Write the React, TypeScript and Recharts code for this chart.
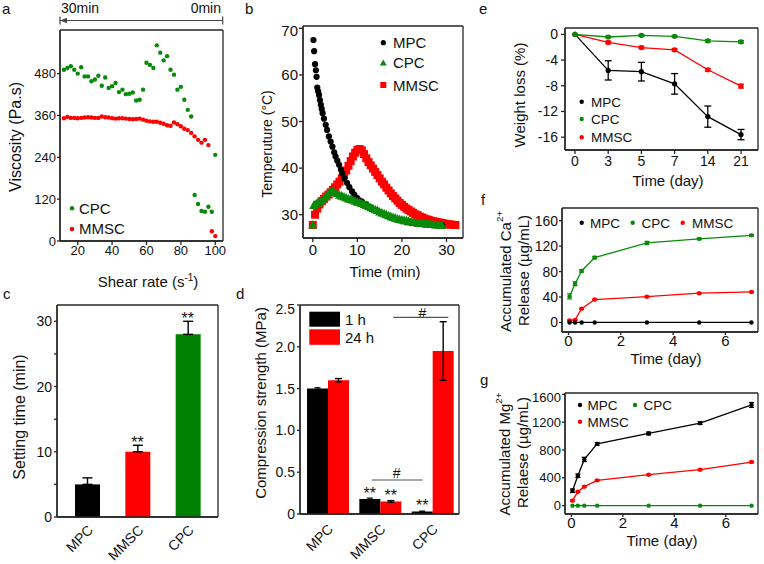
import React from 'react';
import {
  ScatterChart, Scatter, XAxis, YAxis, ComposedChart, BarChart, Bar, ErrorBar,
  LineChart, Line, LabelList, Cell, CartesianGrid,
} from 'recharts';

const FONT = "'Liberation Sans', Arial, Helvetica, sans-serif";
const AX = '#262626';
const GREEN = '#0a8a0a';
const RED = '#ff0000';
const BLACK = '#000000';
const TXT = '#111111';

// ---------- Panel a: viscosity vs shear rate ----------
const aShear = [12, 14, 16, 18, 20, 22, 24, 26, 28, 30, 32, 34, 36, 38, 40, 42, 44, 46, 48, 50, 52, 54, 56, 58, 60, 62, 64, 66, 68, 70, 72, 74, 76, 78, 80, 82, 84, 86, 88, 90, 92, 94, 96, 98, 100];
const aCPC = [491, 496, 501, 491, 480, 498, 472, 472, 458, 463, 474, 445, 469, 439, 444, 453, 427, 434, 421, 422, 426, 403, 405, 434, 511, 505, 496, 561, 540, 518, 530, 491, 477, 434, 442, 405, 376, 357, 132, 106, 86, 84, 98, 84, 247];
const aMMSC = [352, 356, 353, 353, 352, 353, 354, 355, 354, 353, 353, 357, 355, 354, 352, 351, 352, 352, 351, 350, 349, 350, 351, 348, 345, 343, 342, 342, 339, 336, 332, 330, 340, 335, 329, 322, 318, 310, 300, 290, 282, 290, 275, 28, 14];

// ---------- Panel b: temperature vs time ----------
const bTimeMPC = [0.15, 0.3, 0.5, 0.7, 0.85, 1.0, 1.2, 1.4, 1.6, 1.8, 2.0, 2.2, 2.5, 2.9, 3.2, 3.6, 4.0, 4.4, 4.8, 5.1, 5.5, 5.9, 6.3, 6.6, 7.1, 7.7, 8.2, 8.8, 9.3, 9.9, 10.5, 11, 12, 13, 14, 15, 16, 17, 18, 19, 20, 21, 22, 23, 24, 25, 26, 27, 28, 29];
const bMPC = [67.5, 65.1, 62.3, 61.0, 59.6, 57.3, 56.5, 55.7, 54.6, 53.6, 52.7, 51.8, 50.6, 49.3, 48.2, 46.8, 45.7, 44.6, 43.4, 42.5, 41.6, 40.7, 39.7, 38.9, 37.8, 36.8, 35.9, 35.0, 34.3, 33.6, 33.1, 32.8, 32.2, 31.6, 31.0, 30.5, 30.0, 29.6, 29.2, 28.9, 28.6, 28.4, 28.2, 28.1, 28.0, 27.9, 27.8, 27.8, 27.7, 27.7];
const bTimeCPC = [0, 0.2, 0.5, 1.0, 1.5, 2.0, 2.5, 3.0, 3.5, 4.0, 4.5, 5.0, 5.5, 6.0, 6.5, 7.0, 7.5, 8.0, 8.5, 9.0, 9.5, 10.0, 10.5, 11.0, 11.5, 12.0, 12.5, 13.0, 13.5, 14.0, 14.5, 15.0, 15.5, 16.0, 16.5, 17.0, 17.5, 18.0, 18.5, 19.0, 19.5, 20.0, 20.5, 21.0, 21.5, 22.0, 22.5, 23.0, 23.5, 24.0, 24.5, 25.0, 25.5, 26.0, 26.5, 27.0, 27.5, 28.0, 28.5, 29.0];
const bCPC = [27.8, 32.0, 32.2, 32.5, 32.8, 33.1, 33.5, 33.9, 34.4, 34.9, 35.1, 34.8, 34.5, 34.2, 34.0, 33.8, 33.6, 33.4, 33.3, 33.1, 32.9, 32.7, 32.6, 32.4, 32.2, 32.0, 31.8, 31.5, 31.3, 31.1, 30.9, 30.6, 30.4, 30.2, 30.0, 29.8, 29.6, 29.4, 29.3, 29.1, 29.0, 28.9, 28.8, 28.7, 28.6, 28.5, 28.4, 28.4, 28.3, 28.2, 28.2, 28.1, 28.0, 28.0, 27.9, 27.9, 27.8, 27.8, 27.8, 27.7];
const bTimeMMSC = [0, 0.5, 1, 1.5, 2, 2.5, 3, 3.5, 4, 4.5, 5, 5.5, 6, 6.5, 7, 7.5, 8, 8.5, 9, 9.5, 10, 10.5, 11, 11.5, 12, 12.5, 13, 13.5, 14, 14.5, 15, 15.5, 16, 16.5, 17, 17.5, 18, 18.5, 19, 19.5, 20, 20.5, 21, 21.5, 22, 22.5, 23, 23.5, 24, 24.5, 25, 25.5, 26, 26.5, 27, 27.5, 28, 28.5, 29, 29.5, 30, 30.5, 31, 31.5, 32];
const bMMSC = [27.8, 30.0, 31.3, 32.2, 32.9, 33.4, 33.9, 34.3, 34.8, 35.3, 35.9, 36.5, 37.1, 37.8, 38.6, 39.5, 40.5, 41.5, 42.5, 43.3, 43.9, 44.1, 43.8, 43.0, 42.1, 41.3, 40.6, 39.9, 39.2, 38.5, 37.8, 37.1, 36.5, 35.8, 35.2, 34.6, 34.0, 33.5, 33.0, 32.5, 32.1, 31.7, 31.3, 31.0, 30.7, 30.4, 30.1, 29.9, 29.6, 29.4, 29.2, 29.0, 28.9, 28.7, 28.6, 28.5, 28.4, 28.3, 28.2, 28.1, 28.0, 27.9, 27.9, 27.8, 27.8];

// ---------- Panel c: setting time ----------
const cGroups = ['MPC', 'MMSC', 'CPC'];
const cValues = [5, 10, 28];
const cErrors = [1, 1, 2];
const cColors = [BLACK, RED, '#008000'];
const cSig = ['', '**', '**'];

// ---------- Panel d: compression strength ----------
const dGroups = ['MPC', 'MMSC', 'CPC'];
const d1h = [1.5, 0.18, 0.03];
const d1hErr = [0.01, 0.01, 0.005];
const d24h = [1.6, 0.15, 1.95];
const d24hErr = [0.02, 0.01, 0.35];
const d1hSig = ['', '**', '**'];
const d24hSig = ['', '**', ''];

// ---------- Panel e: weight loss ----------
const eDays = ['0', '3', '5', '7', '14', '21'];
const eMPC = [0, -5.6, -5.8, -7.7, -12.8, -15.6];
const eMPCErr = [0, 1.5, 1.45, 1.6, 1.65, 0.8];
const eCPC = [0, -0.4, -0.15, -0.3, -1.0, -1.15];
const eCPCErr = [0, 0.15, 0.15, 0.15, 0.2, 0.2];
const eMMSC = [0, -1.25, -2.05, -2.4, -5.5, -8.05];
const eMMSCErr = [0, 0.2, 0.2, 0.2, 0.2, 0.3];

// ---------- Panel f: Ca release ----------
const fDays = [0.04, 0.25, 0.5, 1, 3, 5, 7];
const fMPC = [0, 0, 0, 0, 0, 0, 0];
const fCPC = [41, 61, 81, 102, 125, 131.5, 137];
const fCPCErr = [4, 3, 2, 2, 2.5, 1.5, 1.5];
const fMMSC = [3, 4, 21.5, 36, 40.5, 46, 48];
const fMMSCErr = [1, 1, 1, 1, 1, 1, 1];

// ---------- Panel g: Mg release ----------
const gDays = [0.04, 0.25, 0.5, 1, 3, 5, 7];
const gMPC = [215, 430, 665, 888, 1038, 1188, 1448];
const gMPCErr = [25, 25, 30, 20, 20, 20, 35];
const gCPC = [0, 0, 0, 0, 0, 0, 0];
const gMMSC = [72, 200, 273, 364, 445, 517, 627];
const gMMSCErr = [10, 10, 10, 10, 10, 10, 10];

// ---------- helpers ----------
type Box = { x0: number; y0: number; x1: number; y1: number; yw: number; xh: number };
function place(b: Box) {
  const m = { top: 4, right: 4, bottom: 2, left: 0 };
  return {
    wrap: { position: 'absolute' as const, left: b.x0 - b.yw, top: b.y0 - m.top },
    width: b.x1 - b.x0 + b.yw + m.right,
    height: b.y1 - b.y0 + m.top + b.xh + m.bottom,
    margin: m,
  };
}
const axisLine = { stroke: AX, strokeWidth: 1.3 };
const tickLine = { stroke: AX, strokeWidth: 1.3 };
const tk = (fs: number) => ({ fontSize: fs, fill: TXT });

// plot-area border drawn by the grid at the plot's own edges
function border() {
  return (
    <CartesianGrid
      stroke={AX}
      strokeWidth={1.3}
      fill="none"
      syncWithTicks={false}
      horizontalCoordinatesGenerator={(a: any) => [a.offset.top, a.offset.top + a.offset.height]}
      verticalCoordinatesGenerator={(a: any) => [a.offset.left, a.offset.left + a.offset.width]}
    />
  );
}

const circ = (r: number, fill: string) => (p: any) =>
  p.cx == null || p.cy == null ? <g /> : <circle cx={p.cx} cy={p.cy} r={r} fill={fill} />;
const square = (s: number, fill: string) => (p: any) =>
  p.cx == null || p.cy == null ? <g /> : <rect x={p.cx - s / 2} y={p.cy - s / 2} width={s} height={s} fill={fill} />;
const tri = (s: number, fill: string) => (p: any) =>
  p.cx == null || p.cy == null ? <g /> : (
    <polygon points={`${p.cx},${p.cy - s * 0.55} ${p.cx - s / 2},${p.cy + s * 0.4} ${p.cx + s / 2},${p.cy + s * 0.4}`} fill={fill} />
  );

// rotated category label placed under a bar (bar geometry comes from the chart)
const catLabel = (dx: number, dy: number, fs: number, atRightEdge: boolean) => (props: any) => {
  const vb = props.viewBox || {};
  const x = props.x ?? vb.x;
  const y = props.y ?? vb.y;
  const w = props.width ?? vb.width;
  const h = props.height ?? vb.height;
  if (x == null || y == null) return null;
  const cx = atRightEdge ? x + w : x + w / 2;
  const base = y + h;
  return (
    <text transform={`translate(${cx + dx},${base + dy}) rotate(-45)`} textAnchor="end" fontSize={fs} fill={TXT} fontFamily={FONT}>
      {props.value}
    </text>
  );
};

function PanelA() {
  const p = place({ x0: 60, y0: 30, x1: 223, y1: 241, yw: 40, xh: 30 });
  const cpc = aShear.map((x, i) => ({ x, y: aCPC[i] }));
  const mmsc = aShear.map((x, i) => ({ x, y: aMMSC[i] }));
  return (
    <div style={p.wrap}>
      <ScatterChart width={p.width} height={p.height} margin={p.margin}>
        {border()}
        <XAxis type="number" dataKey="x" domain={[9.7, 104.5]} ticks={[20, 40, 60, 80, 100]} allowDataOverflow height={30}
          tickSize={4} tickMargin={1} axisLine={axisLine} tickLine={tickLine} tick={tk(13)} />
        <YAxis type="number" dataKey="y" domain={[0, 605]} ticks={[0, 120, 240, 360, 480]} allowDataOverflow width={40}
          tickSize={3} tickMargin={1} axisLine={axisLine} tickLine={tickLine} tick={tk(13)} />
        <Scatter data={cpc} shape={circ(2.2, GREEN)} isAnimationActive={false} />
        <Scatter data={mmsc} shape={circ(2.2, RED)} isAnimationActive={false} />
      </ScatterChart>
    </div>
  );
}

function PanelB() {
  const p = place({ x0: 303, y0: 26, x1: 463, y1: 238, yw: 30, xh: 30 });
  const mpc = bTimeMPC.map((x, i) => ({ x, y: bMPC[i] }));
  const cpc = bTimeCPC.map((x, i) => ({ x, y: bCPC[i] }));
  const mmsc = bTimeMMSC.map((x, i) => ({ x, y: bMMSC[i] }));
  return (
    <div style={p.wrap}>
      <ScatterChart width={p.width} height={p.height} margin={p.margin}>
        {border()}
        <XAxis type="number" dataKey="x" domain={[-2.2, 33.7]} ticks={[0, 10, 20, 30]} allowDataOverflow height={30}
          tickSize={4} tickMargin={2} axisLine={axisLine} tickLine={tickLine} tick={tk(15)} />
        <YAxis type="number" dataKey="y" domain={[25, 70.5]} ticks={[30, 40, 50, 60, 70]} allowDataOverflow width={30}
          tickSize={4} tickMargin={1} axisLine={axisLine} tickLine={tickLine} tick={tk(15)} />
        <Scatter data={mmsc} shape={square(8, RED)} isAnimationActive={false} />
        <Scatter data={mpc} shape={circ(3.1, BLACK)} isAnimationActive={false} />
        <Scatter data={cpc} shape={tri(9, GREEN)} isAnimationActive={false} />
      </ScatterChart>
    </div>
  );
}

const cStar = (p: any) =>
  p.cx == null || p.cy == null || !p.payload || !p.payload.sig ? <g /> : (
    <text x={p.cx} y={p.cy + 3} textAnchor="middle" fontSize={16} fill={TXT} fontFamily={FONT}>{p.payload.sig}</text>
  );

function PanelC() {
  const p = place({ x0: 57, y0: 305, x1: 218, y1: 517, yw: 30, xh: 45 });
  const data = cGroups.map((g, i) => ({
    g, v: cValues[i], err: [0, cErrors[i]], star: cSig[i] ? cValues[i] + cErrors[i] : null, sig: cSig[i],
  }));
  return (
    <div style={p.wrap}>
      <ComposedChart width={p.width} height={p.height} margin={p.margin} data={data}>
        {border()}
        <XAxis dataKey="g" type="category" padding={{ left: 5, right: 5 }} height={45} tickSize={0}
          axisLine={axisLine} tickLine={false} tick={false} />
        <YAxis type="number" domain={[0, 32.5]} ticks={[0, 5, 10, 15, 20, 25, 30]} width={30}
          tickFormatter={(v: number) => (v % 10 === 0 ? String(v) : '')}
          tickSize={3} tickMargin={2} axisLine={axisLine} tickLine={tickLine} tick={tk(14)} />
        <Bar dataKey="v" barSize={25} isAnimationActive={false}>
          {data.map((d, i) => <Cell key={i} fill={cColors[i]} />)}
          <ErrorBar dataKey="err" width={5} stroke="#000" strokeWidth={1.4} direction="y" />
          <LabelList dataKey="g" content={catLabel(6.5, 14, 14, false)} />
        </Bar>
        <Scatter dataKey="star" shape={cStar} isAnimationActive={false} />
      </ComposedChart>
    </div>
  );
}

function PanelD() {
  const p = place({ x0: 300, y0: 305, x1: 459, y1: 514, yw: 32, xh: 48 });
  const data = dGroups.map((g, i) => ({
    g, h1: d1h[i], h1e: d1hErr[i], h24: d24h[i], h24e: d24hErr[i], s1: d1hSig[i], s24: d24hSig[i],
  }));
  return (
    <div style={p.wrap}>
      <BarChart width={p.width} height={p.height} margin={p.margin} data={data} barGap={0}>
        {border()}
        <XAxis dataKey="g" type="category" padding={{ left: 2, right: 0 }} height={48} tickSize={3}
          axisLine={axisLine} tickLine={tickLine} tick={false} />
        <YAxis type="number" domain={[0, 2.5]} ticks={[0, 0.5, 1, 1.5, 2, 2.5]} width={32}
          tickFormatter={(v: number) => (v === 0 ? '0' : v.toFixed(1))}
          tickSize={3} tickMargin={2} axisLine={axisLine} tickLine={tickLine} tick={tk(14)} />
        <Bar dataKey="h1" fill={BLACK} barSize={21} isAnimationActive={false}>
          <ErrorBar dataKey="h1e" width={3} stroke="#000" strokeWidth={1.2} direction="y" />
          <LabelList dataKey="s1" position="top" offset={0} fontSize={16} fill={TXT} />
          <LabelList dataKey="g" content={catLabel(6, 16, 14, true)} />
        </Bar>
        <Bar dataKey="h24" fill={RED} barSize={21} isAnimationActive={false}>
          <ErrorBar dataKey="h24e" width={3.5} stroke="#000" strokeWidth={1.4} direction="y" />
          <LabelList dataKey="s24" position="top" offset={0} fontSize={16} fill={TXT} />
        </Bar>
      </BarChart>
    </div>
  );
}

function PanelE() {
  const p = place({ x0: 565, y0: 28, x1: 758, y1: 150, yw: 36, xh: 28 });
  const data = eDays.map((d, i) => ({
    d, mpc: eMPC[i], mpcE: eMPCErr[i], cpc: eCPC[i], cpcE: eCPCErr[i], mmsc: eMMSC[i], mmscE: eMMSCErr[i],
  }));
  return (
    <div style={p.wrap}>
      <LineChart width={p.width} height={p.height} margin={p.margin} data={data}>
        {border()}
        <XAxis dataKey="d" type="category" scale="point" padding={{ left: 10, right: 17 }} height={28} tickSize={4} tickMargin={2}
          axisLine={axisLine} tickLine={tickLine} tick={tk(14)} interval={0} />
        <YAxis type="number" domain={[-18, 1]} ticks={[-16, -12, -8, -4, 0]} allowDataOverflow width={36}
          tickSize={4} tickMargin={3} axisLine={axisLine} tickLine={tickLine} tick={tk(14)} />
        <Line dataKey="mpc" stroke={BLACK} strokeWidth={1.3} dot={{ r: 2.6, fill: BLACK, stroke: BLACK, strokeWidth: 0 }} isAnimationActive={false}>
          <ErrorBar dataKey="mpcE" width={3.5} stroke={BLACK} strokeWidth={1.3} direction="y" />
        </Line>
        <Line dataKey="mmsc" stroke={RED} strokeWidth={1.3} dot={{ r: 2.6, fill: RED, stroke: RED, strokeWidth: 0 }} isAnimationActive={false}>
          <ErrorBar dataKey="mmscE" width={3} stroke={RED} strokeWidth={1.3} direction="y" />
        </Line>
        <Line dataKey="cpc" stroke={GREEN} strokeWidth={1.3} dot={{ r: 2.6, fill: GREEN, stroke: GREEN, strokeWidth: 0 }} isAnimationActive={false}>
          <ErrorBar dataKey="cpcE" width={3} stroke={GREEN} strokeWidth={1.3} direction="y" />
        </Line>
      </LineChart>
    </div>
  );
}

function PanelF() {
  const p = place({ x0: 562, y0: 208, x1: 758, y1: 332, yw: 32, xh: 24 });
  const data = fDays.map((t, i) => ({ t, mpc: fMPC[i], cpc: fCPC[i], cpcE: fCPCErr[i], mmsc: fMMSC[i], mmscE: fMMSCErr[i] }));
  return (
    <div style={p.wrap}>
      <LineChart width={p.width} height={p.height} margin={p.margin} data={data}>
        {border()}
        <XAxis dataKey="t" type="number" domain={[-0.25, 7.25]} ticks={[0, 2, 4, 6]} allowDataOverflow height={24} tickSize={3} tickMargin={0}
          axisLine={axisLine} tickLine={tickLine} tick={tk(15)} />
        <YAxis type="number" domain={[-15, 180]} ticks={[0, 40, 80, 120, 160]} allowDataOverflow width={32}
          tickSize={3} tickMargin={1} axisLine={axisLine} tickLine={tickLine} tick={tk(14)} />
        <Line dataKey="mmsc" stroke={RED} strokeWidth={1.3} dot={{ r: 2.2, fill: RED, stroke: RED, strokeWidth: 0 }} isAnimationActive={false}>
          <ErrorBar dataKey="mmscE" width={2.5} stroke={RED} strokeWidth={1.2} direction="y" />
        </Line>
        <Line dataKey="cpc" stroke={GREEN} strokeWidth={1.3} dot={{ r: 2.2, fill: GREEN, stroke: GREEN, strokeWidth: 0 }} isAnimationActive={false}>
          <ErrorBar dataKey="cpcE" width={2.5} stroke={GREEN} strokeWidth={1.2} direction="y" />
        </Line>
        <Line dataKey="mpc" stroke={BLACK} strokeWidth={1.3} dot={{ r: 2.2, fill: BLACK, stroke: BLACK, strokeWidth: 0 }} isAnimationActive={false} />
      </LineChart>
    </div>
  );
}

function PanelG() {
  const p = place({ x0: 565, y0: 393, x1: 758, y1: 514, yw: 36, xh: 24 });
  const data = gDays.map((t, i) => ({ t, mpc: gMPC[i], mpcE: gMPCErr[i], cpc: gCPC[i], mmsc: gMMSC[i], mmscE: gMMSCErr[i] }));
  return (
    <div style={p.wrap}>
      <LineChart width={p.width} height={p.height} margin={p.margin} data={data}>
        {border()}
        <XAxis dataKey="t" type="number" domain={[-0.25, 7.25]} ticks={[0, 2, 4, 6]} allowDataOverflow height={24} tickSize={3} tickMargin={0}
          axisLine={axisLine} tickLine={tickLine} tick={tk(15)} />
        <YAxis type="number" domain={[-120, 1620]} ticks={[0, 400, 800, 1200, 1600]} allowDataOverflow width={36}
          tickSize={3} tickMargin={1} axisLine={axisLine} tickLine={tickLine} tick={tk(13)} />
        <Line dataKey="mmsc" stroke={RED} strokeWidth={1.3} dot={{ r: 2.2, fill: RED, stroke: RED, strokeWidth: 0 }} isAnimationActive={false}>
          <ErrorBar dataKey="mmscE" width={2.5} stroke={RED} strokeWidth={1.2} direction="y" />
        </Line>
        <Line dataKey="mpc" stroke={BLACK} strokeWidth={1.3} dot={{ r: 2.2, fill: BLACK, stroke: BLACK, strokeWidth: 0 }} isAnimationActive={false}>
          <ErrorBar dataKey="mpcE" width={2.5} stroke={BLACK} strokeWidth={1.3} direction="y" />
        </Line>
        <Line dataKey="cpc" stroke={GREEN} strokeWidth={1.3} dot={{ r: 2.2, fill: GREEN, stroke: GREEN, strokeWidth: 0 }} isAnimationActive={false} />
      </LineChart>
    </div>
  );
}

function VText({ x, y, size, children }: { x: number; y: number; size: number; children: React.ReactNode }) {
  return (
    <text transform={`translate(${x},${y}) rotate(-90)`} textAnchor="middle" dominantBaseline="central" fontSize={size} fill={TXT} fontFamily={FONT}>
      {children}
    </text>
  );
}
function HText({ x, y, size, anchor = 'start', children }: { x: number; y: number; size: number; anchor?: string; children: React.ReactNode }) {
  return (
    <text x={x} y={y} textAnchor={anchor as any} fontSize={size} fill={TXT} fontFamily={FONT}>{children}</text>
  );
}
const Sup = ({ children, size }: { children: React.ReactNode; size: number }) => (
  <tspan dy={-size * 0.42} fontSize={size * 0.65}>{children}</tspan>
);

function Overlay() {
  return (
    <svg width={764} height={564} style={{ position: 'absolute', left: 0, top: 0, pointerEvents: 'none' }}>
      {/* panel letters */}
      <HText x={2} y={14} size={15}>a</HText>
      <HText x={245} y={14} size={15}>b</HText>
      <HText x={3} y={299} size={15}>c</HText>
      <HText x={236} y={299} size={15}>d</HText>
      <HText x={479} y={14} size={15}>e</HText>
      <HText x={481} y={205} size={15}>f</HText>
      <HText x={480} y={385} size={15}>g</HText>

      {/* panel a header arrow */}
      <HText x={61} y={12.5} size={14}>30min</HText>
      <HText x={221} y={12.5} size={14} anchor="end">0min</HText>
      <line x1={60} y1={20.5} x2={222.7} y2={20.5} stroke="#444" strokeWidth={1.2} />
      <line x1={60} y1={16.5} x2={60} y2={24.5} stroke="#444" strokeWidth={1.2} />
      <line x1={222.7} y1={16.5} x2={222.7} y2={24.5} stroke="#444" strokeWidth={1.2} />
      <polygon points="60,20.5 67,17.8 67,23.2" fill="#444" />

      {/* panel a titles + legend */}
      <VText x={15} y={137} size={16}>Viscosity (Pa.s)</VText>
      <text x={148} y={287} textAnchor="middle" fontSize={15} fill={TXT} fontFamily={FONT}>
        Shear rate (s<tspan dy={-6} fontSize={10}>-1</tspan><tspan dy={6}>)</tspan>
      </text>
      <circle cx={72} cy={208.3} r={2.2} fill={GREEN} />
      <HText x={79} y={213.5} size={15}>CPC</HText>
      <circle cx={72} cy={229} r={2.2} fill={RED} />
      <HText x={79} y={234.2} size={15}>MMSC</HText>

      {/* panel b */}
      <VText x={267} y={144} size={14}>Temperuture (°C)</VText>
      <HText x={385} y={277} size={15} anchor="middle">Time (min)</HText>
      <circle cx={383.3} cy={42.7} r={2.6} fill={BLACK} />
      <HText x={393} y={48} size={15}>MPC</HText>
      <polygon points="383.3,59.5 379.8,65.5 386.8,65.5" fill={GREEN} />
      <HText x={393} y={68} size={15}>CPC</HText>
      <rect x={380.3} y={82} width={6} height={6} fill={RED} />
      <HText x={393} y={90.5} size={15}>MMSC</HText>

      {/* panel c */}
      <VText x={19} y={417} size={16}>Setting time (min)</VText>

      {/* panel d */}
      <VText x={260} y={403} size={15}>Compression strength (MPa)</VText>
      <rect x={309.3} y={311.7} width={30.7} height={15} fill={BLACK} />
      <HText x={345} y={324.5} size={15}>1 h</HText>
      <rect x={309.3} y={329.3} width={30.7} height={15.5} fill={RED} />
      <HText x={345} y={342.5} size={15}>24 h</HText>
      <line x1={393.3} y1={317.3} x2={448.3} y2={317.3} stroke="#555" strokeWidth={1.2} />
      <HText x={422.3} y={318} size={14} anchor="middle">#</HText>
      <line x1={371.7} y1={480} x2={422.7} y2={480} stroke="#555" strokeWidth={1.2} />
      <HText x={396.7} y={477.5} size={14} anchor="middle">#</HText>

      {/* panel e */}
      <VText x={519.5} y={95} size={15}>Weight loss (%)</VText>
      <HText x={668} y={186} size={15} anchor="middle">Time (day)</HText>
      <circle cx={581.7} cy={101.7} r={2.2} fill={BLACK} />
      <HText x={591} y={106.5} size={13.5}>MPC</HText>
      <circle cx={581.7} cy={119} r={2.2} fill={GREEN} />
      <HText x={591} y={123.8} size={13.5}>CPC</HText>
      <circle cx={581.7} cy={137.3} r={2.2} fill={RED} />
      <HText x={591} y={142} size={13.5}>MMSC</HText>

      {/* panel f */}
      <VText x={505} y={271.5} size={15}>Accumulated Ca<Sup size={15}>2+</Sup></VText>
      <VText x={523} y={270.5} size={15}>Release (µg/mL)</VText>
      <HText x={666} y={364} size={15} anchor="middle">Time (day)</HText>
      <circle cx={581.7} cy={222.7} r={2.2} fill={BLACK} />
      <HText x={590} y={227.5} size={13.5}>MPC</HText>
      <circle cx={632.7} cy={222.7} r={2.2} fill={GREEN} />
      <HText x={641.5} y={227.5} size={13.5}>CPC</HText>
      <circle cx={682.7} cy={222.7} r={2.2} fill={RED} />
      <HText x={692} y={227.5} size={13.5}>MMSC</HText>

      {/* panel g */}
      <VText x={504} y={454} size={15}>Accumulated Mg<Sup size={15}>2+</Sup></VText>
      <VText x={522.5} y={452.5} size={15}>Relaese (µg/mL)</VText>
      <HText x={662} y={546} size={15} anchor="middle">Time (day)</HText>
      <circle cx={580} cy={405} r={2.2} fill={BLACK} />
      <HText x={587.5} y={410} size={13.5}>MPC</HText>
      <circle cx={635} cy={405} r={2.2} fill={GREEN} />
      <HText x={643.5} y={410} size={13.5}>CPC</HText>
      <circle cx={580} cy={421.7} r={2.2} fill={RED} />
      <HText x={587.5} y={426.5} size={13.5}>MMSC</HText>
    </svg>
  );
}

export default function App() {
  return (
    <div style={{ position: 'absolute', left: 0, top: 0, width: 764, height: 564, background: '#ffffff', fontFamily: FONT, overflow: 'hidden' }}>
      <PanelA />
      <PanelB />
      <PanelC />
      <PanelD />
      <PanelE />
      <PanelF />
      <PanelG />
      <Overlay />
    </div>
  );
}
